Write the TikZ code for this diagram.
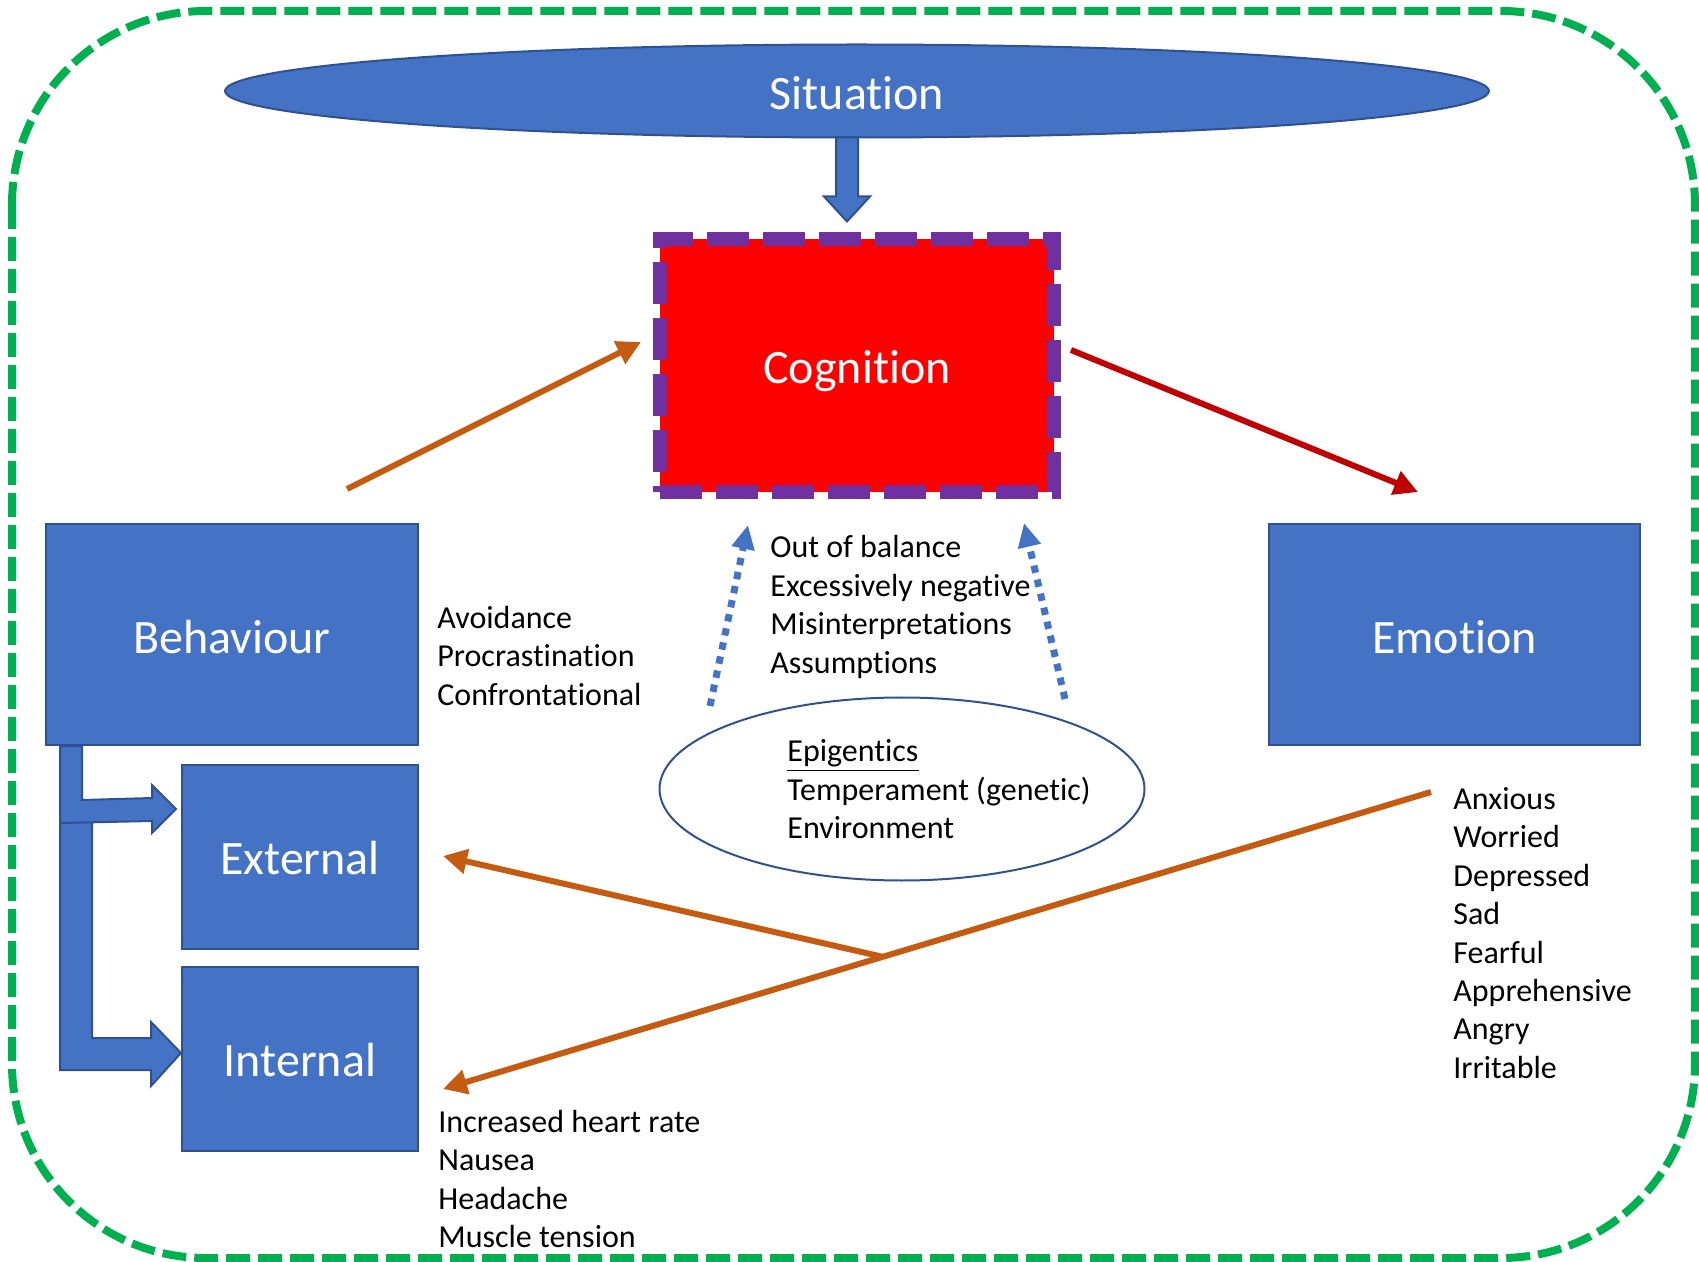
\documentclass[tikz,border=0pt]{standalone}
\usepackage{fontspec}
\setmainfont{Carlito}[Ligatures={NoCommon,NoRequired,NoContextual},RawFeature={-liga;-clig;-calt}]
\usetikzlibrary{arrows.meta,shapes.geometric,calc}

\definecolor{boxblue}{HTML}{4472C4}
\definecolor{edgeblue}{HTML}{2F528F}
\definecolor{framegreen}{HTML}{00B050}
\definecolor{cogpurple}{HTML}{7030A0}
\definecolor{linkorange}{HTML}{C55A11}
\definecolor{linkred}{HTML}{C00000}

\begin{document}
\begin{tikzpicture}[x=0.5pt,y=-0.5pt,
  bigtext/.style={font=\fontsize{24}{28.8}\selectfont, text=white},
  listtext/.style={font=\fontsize{16}{19.2}\selectfont, align=left, anchor=west, inner sep=0pt},
  bluebox/.style={rectangle, draw=edgeblue, line width=1pt, fill=boxblue, bigtext, inner sep=0pt},
  blockarrow/.style={draw=edgeblue, line width=1pt, fill=boxblue, line join=miter},
  link/.style={line width=3pt, -{Triangle[length=12pt,width=12pt]}},
  influence/.style={boxblue, line width=3.5pt, dash pattern=on 3.7pt off 3.5pt, -{Triangle[length=12pt,width=11pt]}},
]
\useasboundingbox (0,0) rectangle (1699,1262);

% outer frame
\draw[framegreen, line width=4pt, dash pattern=on 12pt off 4pt, rounded corners=97pt]
  (12,11) rectangle (1695,1258);

% main boxes
\node[ellipse, draw=edgeblue, line width=1pt, fill=boxblue,
      minimum width=632pt, minimum height=46.5pt, inner sep=0pt] (sit) at (857,91) {};
\node[bigtext] (sittitle) at (857,93) {Situation};
\node[rectangle, fill=red, draw=cogpurple, line width=7pt, dash pattern=on 21pt off 7pt,
      minimum width=197pt, minimum height=126.5pt, inner sep=0pt] (cog) at (857,365.5) {};
\node[bigtext] (cogtitle) at (857,371) {Cognition};
\node[bluebox, minimum width=186pt, minimum height=110.5pt] (beh) at (232,634.5) {};
\node[bigtext] (behtitle) at (232,637) {Behaviour};
\node[bluebox, minimum width=185.5pt, minimum height=110.5pt] (emo) at (1454.5,634.5) {};
\node[bigtext] (emotitle) at (1454.5,637) {Emotion};
\node[bluebox, minimum width=118pt, minimum height=92pt] (ext) at (300,857) {};
\node[bigtext] (exttitle) at (300,858.5) {External};
\node[bluebox, minimum width=118pt, minimum height=92pt] (int) at (300,1059) {};
\node[bigtext] (inttitle) at (300,1060.5) {Internal};
\node[ellipse, draw=edgeblue, line width=1pt, fill=white,
      minimum width=242.5pt, minimum height=91.5pt, inner sep=0pt] (epi) at (902,789) {};

% text lists
\node[listtext] (epitext) at (787,789.5) {\underline{Epigentics}\\Temperament (genetic)\\Environment};
\node[listtext] (cogtext) at (770,607) {Out of balance\\Excessively negative\\Misinterpretations\\Assumptions};
\node[listtext] (behtext) at (437,656) {Avoidance\\Procrastination\\Confrontational};
\node[listtext] (bodytext) at (438,1179) {Increased heart rate\\Nausea\\Headache\\Muscle tension};
\node[listtext] (emotext) at (1453,933) {Anxious\\Worried\\Depressed\\Sad\\Fearful\\Apprehensive\\Angry\\Irritable};

% block arrow: situation to cognition
\draw[blockarrow]
  ($(sit.south)+(-21,-1)$) -- ($(sit.south)+(1,-1)$) -- ($(sit.south)+(1,58)$)
  -- ($(sit.south)+(13,58)$) -- ($(sit.south)+(-10,83)$) -- ($(sit.south)+(-33,58)$)
  -- ($(sit.south)+(-21,58)$) -- cycle;

% bent block arrows: behaviour to internal and external
\draw[blockarrow]
  ($(beh.south west)+(15,75)$) -- ($(beh.south west)+(47,75)$) -- ($(int.west)+(-89,-21)$)
  -- ($(int.west)+(-30,-21)$) -- ($(int.west)+(-30,-37)$) -- ($(int.west)+(0,-6)$)
  -- ($(int.west)+(-30,27)$) -- ($(int.west)+(-30,11)$) -- ($(int.west)+(-121,11)$) -- cycle;
\draw[blockarrow]
  ($(beh.south west)+(15,0)$) -- ($(beh.south west)+(37,0)$) -- ($(beh.south west)+(37,54)$)
  -- ($(ext.north west)+(-29,34)$) -- ($(ext.north west)+(-29,21)$) -- ($(ext.north west)+(-5,45)$)
  -- ($(ext.north west)+(-29,69)$) -- ($(ext.north west)+(-29,57)$) -- ($(beh.south west)+(15,77)$) -- cycle;

% connector end points
\coordinate (behout) at ($(beh.north east)+(-72,-34)$);
\coordinate (cogin) at ($(cog.west)+(-12,-23.5)$);
\coordinate (cogout) at ($(cog.east)+(10,-15.5)$);
\coordinate (emoin) at ($(emo.north)+(-36.5,-31)$);
\coordinate (emoout) at ($(emo.south west)+(163,46)$);
\coordinate (intin) at ($(int.east)+(24,30)$);
\coordinate (extin) at ($(ext.east)+(24,-1)$);
\coordinate (epiL) at ($(epi.center)+(-192,-83)$);
\coordinate (epiR) at ($(epi.center)+(163,-90)$);
\coordinate (cogL) at ($(cog.south)+(-109,26)$);
\coordinate (cogR) at ($(cog.south)+(167,24)$);

% connectors
\draw[link, linkorange] (behout) -- (cogin);
\draw[link, linkred] (cogout) -- (emoin);
\draw[link, linkorange] (emoout) -- (intin) coordinate[pos=0.555] (split);
\draw[link, linkorange] (split) -- (extin);
\draw[influence] (epiL) -- (cogL);
\draw[influence] (epiR) -- (cogR);
\end{tikzpicture}
\end{document}
